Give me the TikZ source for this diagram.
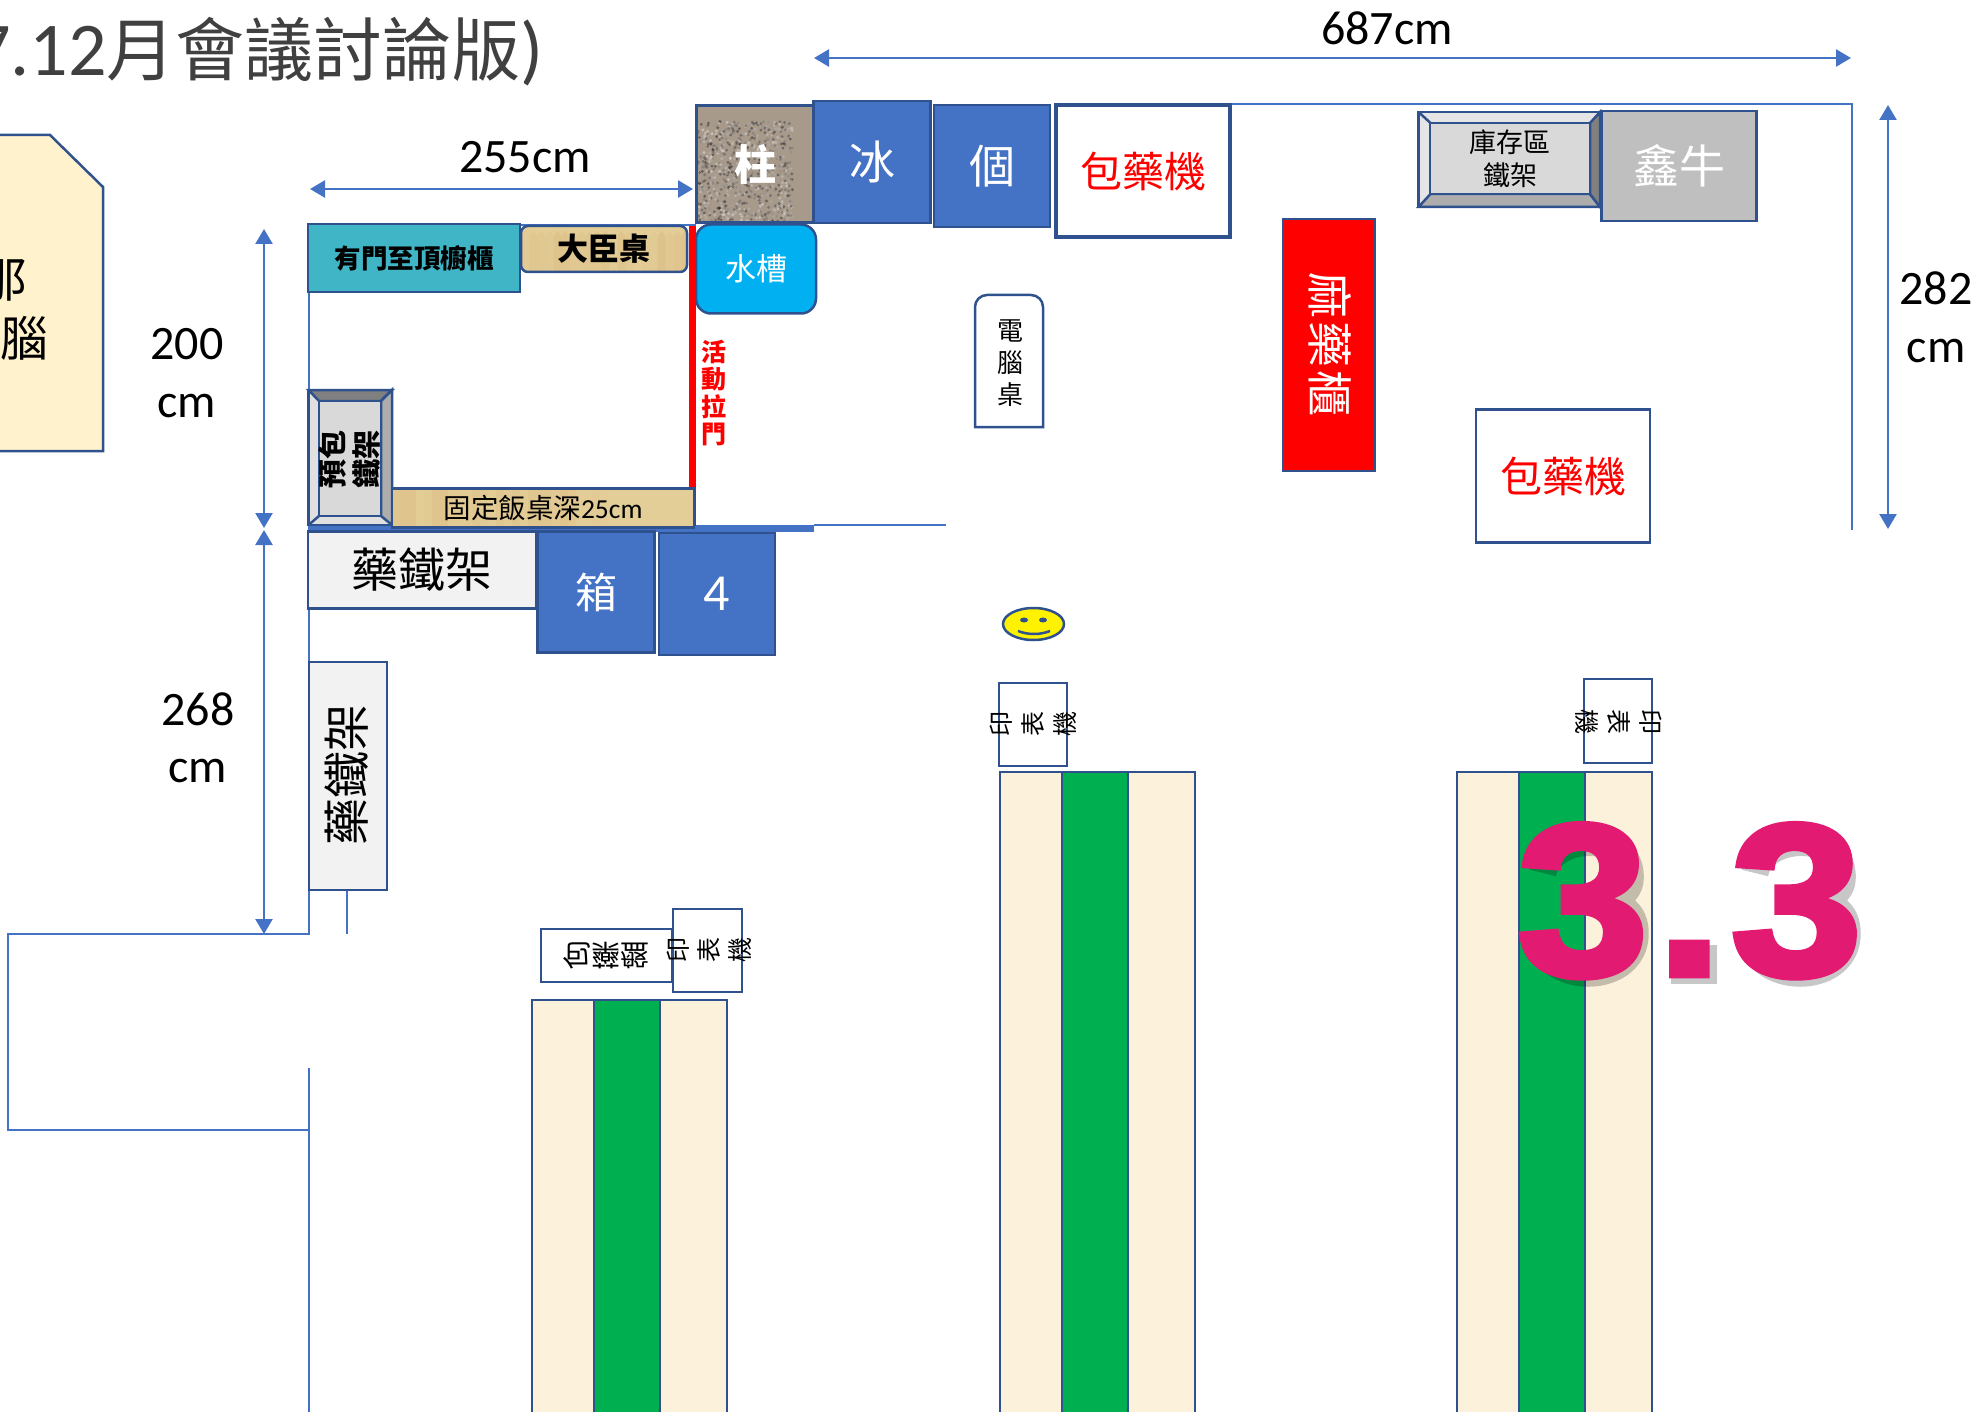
\documentclass[tikz,border=0pt]{standalone}
\usepackage{fontspec}
\usetikzlibrary{arrows.meta,shapes.geometric}
\setmainfont{Carlito}
\newfontfamily\cjk{Noto Sans CJK TC}
\newfontfamily\bignum{Liberation Sans Bold}[FakeBold=3]
\newcommand{\fs}[1]{\fontsize{#1}{#1}\selectfont}
\definecolor{edge}{HTML}{2F528F}
\definecolor{wall}{HTML}{4472C4}
\definecolor{wood}{HTML}{E4CE98}
\definecolor{cream}{HTML}{FCF1DB}
\definecolor{roomyellow}{HTML}{FFF2CC}
\definecolor{teal}{HTML}{40B5C5}
\definecolor{sinkblue}{HTML}{00B0F0}
\definecolor{tablegreen}{HTML}{00B050}
\definecolor{magenta3}{HTML}{E31A72}
\definecolor{stone}{HTML}{A89A8B}
\tikzset{
  x=1pt,y=-1pt,
  sized/.style 2 args={minimum width=#1pt,minimum height=#2pt},
  furn/.style={draw=edge,line width=2.5pt,inner sep=0pt,outer sep=0pt,font=\cjk\fs{46}},
  bluebox/.style={furn,fill=wall,text=white},
  whitebox/.style={furn,fill=white,text=red,font=\cjk\fs{42}},
  grained/.style={furn,fill=wood,
    path picture={\begin{scope}[shift={(path picture bounding box.center)}]
      \foreach \i in {-156,-148,...,156}{
      \pgfmathsetmacro{\op}{.28*rnd}
      \fill[brown!55!wood,opacity=\op] (\i,-30) rectangle (\i+8,30);}
      \end{scope}}},
  speckled/.style={furn,fill=stone,
    path picture={\begin{scope}[shift={(path picture bounding box.center)}]
      \pgfmathsetseed{7}\foreach \i in {1,...,1200}{
      \pgfmathsetmacro{\px}{117*rnd-58.5}\pgfmathsetmacro{\py}{117*rnd-58.5}
      \pgfmathsetmacro{\ps}{100*rnd}
      \fill[black!\ps!white,opacity=.4] (\px,\py) circle (1.6pt);}
      \end{scope}}},
  label/.style={inner sep=0pt,font=\fs{48}},
  walls/.style={draw=wall,line width=1.5pt},
  dim/.style={draw=wall,line width=2.5pt,{Triangle[length=15pt,width=17pt]}-{Triangle[length=15pt,width=17pt]}},
  shade3/.style={draw=black,opacity=.22,line width=27pt},
}
\begin{document}
\begin{tikzpicture}
      \useasboundingbox (0,0) rectangle (1980,1412);
      % walls
      \begin{scope}[walls]
        \draw (309,224) -- (309,934) -- (8,934) -- (8,1130) -- (309,1130);
        \draw (309,1068) -- (309,1412);
        \draw (347,890) -- (347,934);
        \draw (309,225) -- (696,225);
        \draw (1230,104) -- (1852,104) -- (1852,530);
        \draw (814,525) -- (946,525);
      \end{scope}
      \fill[wall] (308,525) rectangle (814,532);
      % long tables
      \foreach \tx/\ty in {532/1000,1000/772,1457/772}{
        \draw[furn,fill=cream] (\tx,\ty) rectangle (\tx+195,1420);
        \draw[furn,fill=tablegreen] (\tx+62,\ty) rectangle (\tx+128,1420);
      }
      % yellow room at the left edge
      \draw[furn,fill=roomyellow] (-10,135) -- (50,135) -- (103,187) -- (103,451) -- (-10,451) -- cycle;
      \draw
        (28,280) node[anchor=east,inner sep=0pt,font=\cjk\fs{48}] (roomA){那}
        (49,338) node[anchor=east,inner sep=0pt,font=\cjk\fs{48}] (roomB){腦};
      % title
      \node[anchor=base east,inner sep=0pt,text=black!75,font=\fs{76}] (title) at (544,76) {7.12{\cjk\fs{69}月會議討論版})};
      % furniture, top row
      \draw
        (755,164) node[speckled,text=white,sized={117}{117},font=\cjk\bfseries\fs{42}] (pillar){柱}
        (872,162) node[bluebox,sized={117}{122}] (ice){冰}
        (992,166) node[bluebox,sized={116}{122}] (unit){個}
        (1143,171) node[whitebox,line width=4pt,sized={174}{132}] (packA){包藥機}
        (756,269) node[furn,fill=sinkblue,text=white,rounded corners=15pt,sized={120}{89},font=\cjk\fs{31}] (sink){水槽}
        (414,258) node[furn,fill=teal,sized={212}{68},font=\cjk\bfseries\fs{26.5}] (cabinet){有門至頂櫥櫃}
        (604,249) node[grained,rounded corners=7pt,sized={166}{46},font=\cjk\bfseries\fs{31}] (desk){大臣桌};
      \fill[red] (689,226) rectangle (696,526);
      \node[align=center,text=red,inner sep=0pt,font=\cjk\bfseries\fs{25}] (door) at (714,393) {活\\[2.5pt]動\\[2.5pt]拉\\[2.5pt]門};
      % bevelled rack, left
      \draw[furn,fill=black!12] (308.5,390) rectangle (392,525);
      \draw[furn,fill=black!50] (308.5,390) -- (392,390) -- (381,401) -- (319,401) -- cycle;
      \draw[furn,fill=black!32] (392,390) -- (392,525) -- (381,516) -- (381,401) -- cycle;
      \draw[furn] (308.5,525) -- (319,516);
      \draw (350,458.5) node[furn,fill=black!15,sized={62}{115}] (rackframe){};
      \node[rotate=90,align=center,inner sep=0pt,font=\cjk\bfseries\fs{29}] (rackA) at (349,459) {預包\\[5pt]鐵架};
      \draw (543,508) node[grained,sized={302}{39},font=\fs{27.5}] (bench){{\cjk 固定飯桌深}25cm};
      % shelves under the wall
      \draw
        (422,570) node[furn,fill=black!5,sized={228}{77},font=\cjk\fs{47}] (shelfA){藥鐵架}
        (596,592) node[bluebox,sized={117}{121},font=\cjk\fs{42}] (box){箱}
        (717,594) node[bluebox,sized={116}{122},font=\fs{52}] (four){4}
        (348,776) node[furn,fill=black!5,sized={78}{228}] (shelfB){};
      \node[rotate=90,inner sep=0pt,font=\cjk\fs{47}] (shelfBtext) at (347,775) {藥鐵架};
      % computer desk
      \draw[furn,rounded corners=12pt] (975,427) -- (975,295) -- (1043,295) -- (1043,340) [sharp corners] -- (1043,427) -- cycle;
      \node[align=center,inner sep=0pt,font=\cjk\fs{26}] (pcdesk) at (1010,363) {電\\[6pt]腦\\[6pt]桌};
      % red cabinet
      \draw (1329,345) node[furn,fill=red,sized={92}{252}] (redbox){};
      \node[rotate=-90,text=white,inner sep=0pt,font=\cjk\fs{46}] (redtext) at (1330,345) {麻\hspace{3pt}藥\hspace{3pt}櫃};
      % stock rack
      \draw[furn,fill=black!10] (1418.5,112) rectangle (1600,207);
      \draw[furn,fill=black!32] (1418.5,207) -- (1600,207) -- (1590,194) -- (1430.5,194) -- cycle;
      \draw[furn,fill=black!50] (1600,112) -- (1600,207) -- (1590,194) -- (1590,123) -- cycle;
      \draw[furn] (1418.5,112) -- (1430.5,123);
      \draw (1510,158.5) node[furn,fill=black!15,sized={160}{71},align=center,font=\cjk\fs{27}] (stock){庫存區\\[6pt]鐵架};
      \draw
        (1679,166) node[furn,fill=black!25,text=white,sized={155}{110}] (xinniu){鑫牛}
        (1563,476) node[whitebox,sized={174}{133}] (packB){包藥機}
        (606,955) node[furn,line width=2pt,fill=white,sized={131}{53}] (tray){};
      \node[yscale=-1,transform shape,inner sep=0pt,font=\cjk\fs{29}] (traytext) at (606,956) {包藥盤};
      % printers
      \draw
        (707.5,950.5) node[furn,sized={69}{83}] (printA){}
        (1033,724.5) node[furn,sized={68}{83}] (printB){}
        (1618,721) node[furn,sized={68}{84}] (printC){};
      \node[rotate=90,align=center,inner sep=0pt,font=\cjk\fs{25}] (printAtext) at (709,950) {印\\[6pt]表\\[6pt]機};
      \node[rotate=90,align=center,inner sep=0pt,font=\cjk\fs{25}] (printBtext) at (1033,724) {印\\[7pt]表\\[7pt]機};
      \node[rotate=-90,align=center,inner sep=0pt,font=\cjk\fs{25}] (printCtext) at (1619,722) {印\\[7pt]表\\[7pt]機};
      % smile
      \node[ellipse,draw=edge,fill=yellow,line width=2.5pt,minimum width=61pt,minimum height=32pt,inner sep=0pt] (smile) at (1033.5,624) {};
      \fill[edge] (1024,620) ellipse [x radius=4,y radius=2.5];
      \fill[edge] (1043,620) ellipse [x radius=4,y radius=2.5];
      \draw[edge,line width=2.5pt] (1018,631) .. controls (1028,635) and (1040,635) .. (1050,631);
      % sizes
      \coordinate (a1) at (310,189);
      \coordinate (a2) at (693,189);
      \coordinate (b1) at (814,58);
      \coordinate (b2) at (1851,58);
      \coordinate (c1) at (264,229);
      \coordinate (c2) at (264,528);
      \coordinate (d1) at (264,530);
      \coordinate (d2) at (264,934);
      \coordinate (e1) at (1888,105);
      \coordinate (e2) at (1888,529);
      \begin{scope}[dim]
        \draw (a1) to (a2);
        \draw (b1) to (b2);
        \draw (c1) to (c2);
        \draw (d1) to (d2);
        \draw (e1) to (e2);
      \end{scope}
      \draw
        (525,157) node[label] (w255){255cm}
        (1387,28) node[label] (w687){687cm}
        (187,344) node[label] (h200a){200}
        (187,406) node[label] (h200b){cm}
        (198,709) node[label] (h268a){268}
        (198,771) node[label] (h268b){cm}
        (1936,288) node[label] (h282a){282}
        (1936,351) node[label] (h282b){cm};
      % big number, with a shadow shape under it
      \foreach \sx in {1525,1737}{
        \draw[shade3] (\sx+18,873) .. controls (\sx+25,835) and (\sx+100,830) .. (\sx+105,872) .. controls (\sx+108,895) and (\sx+90,900) .. (\sx+68,900) .. controls (\sx+100,902) and (\sx+112,915) .. (\sx+110,938) .. controls (\sx+105,985) and (\sx+22,985) .. (\sx+14,938);
      }
      \fill[black,opacity=.22] (1671,945) rectangle (1717,984);
      \node[anchor=base,inner sep=0pt,text=magenta3,xscale=1.09,font=\bignum\fs{216}] (bignumber) at (1689.5,975) {3\kern8pt.\kern8pt3};
    \end{tikzpicture}
\end{document}
